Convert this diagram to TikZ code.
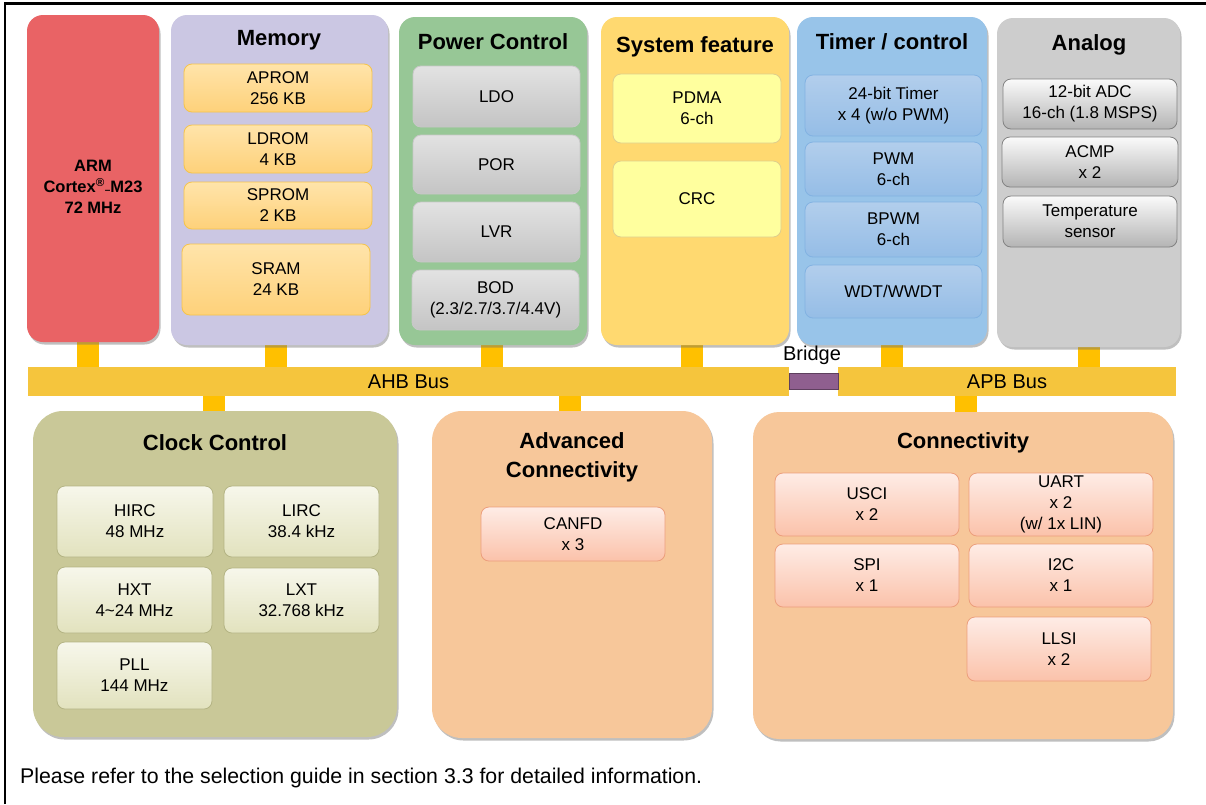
\documentclass[tikz,border=0pt]{standalone}
\usepackage{fontspec}
\setmainfont{Liberation Sans}
\usetikzlibrary{shadows,backgrounds}
\definecolor{armc}{HTML}{E96365}
\definecolor{memc}{HTML}{CBC7E3}
\definecolor{powc}{HTML}{97C796}
\definecolor{sysc}{HTML}{FFD970}
\definecolor{timc}{HTML}{98C4E9}
\definecolor{anac}{HTML}{CDCDCD}
\definecolor{clkc}{HTML}{C9C898}
\definecolor{conc}{HTML}{F7C79A}
\definecolor{busc}{HTML}{F5C53D}
\definecolor{stubc}{HTML}{FFC000}
\definecolor{brc}{HTML}{8F5F8F}
\definecolor{brd}{HTML}{5E3F5E}
\newcommand{\innerfont}{\fontsize{17}{21}\selectfont}
\begin{document}
\begin{tikzpicture}[x=1pt,y=-1pt,
  outer/.style={rounded corners=#1, inner sep=0pt, draw=none,
    drop shadow={shadow xshift=1.5pt,shadow yshift=-2.5pt,opacity=0.45,fill=black!55}},
  outer/.default=16pt,
  ttl/.style={font=\fontsize{22}{29}\selectfont\bfseries, align=center, inner sep=0pt},
  inbox/.style={rounded corners=8pt, line width=0.8pt, align=center, inner sep=0pt,
    font=\innerfont, text=black},
  mbox/.style={inbox, draw={rgb,255:red,246;green,196;blue,74}, top color={rgb,255:red,255;green,228;blue,170}, bottom color={rgb,255:red,254;green,209;blue,122}},
  pbox/.style={inbox, draw={rgb,255:red,200;green,200;blue,200}, top color={rgb,255:red,226;green,226;blue,226}, bottom color={rgb,255:red,196;green,196;blue,196}},
  sbox/.style={inbox, draw={rgb,255:red,222;green,206;blue,140}, fill={rgb,255:red,255;green,255;blue,158}},
  tbox/.style={inbox, draw={rgb,255:red,130;green,178;blue,226}, top color={rgb,255:red,178;green,206;blue,236}, bottom color={rgb,255:red,149;green,189;blue,230}},
  abox/.style={inbox, draw={rgb,255:red,130;green,130;blue,130}, top color={rgb,255:red,250;green,250;blue,250}, bottom color={rgb,255:red,180;green,180;blue,180}},
  cbox/.style={inbox, draw={rgb,255:red,180;green,180;blue,132}, top color={rgb,255:red,247;green,247;blue,235}, bottom color={rgb,255:red,226;green,226;blue,190}},
  kbox/.style={inbox, draw={rgb,255:red,236;green,158;blue,124}, top color={rgb,255:red,254;green,236;blue,230}, bottom color={rgb,255:red,251;green,194;blue,170}},
  bus/.style={fill=busc, draw=none, inner sep=0pt, font=\fontsize{20}{24}\selectfont},
  stub/.style={draw=stubc, line width=22pt}
]
\useasboundingbox (0,0) rectangle (1206,804);
\draw[line width=2.2pt] (5,804) -- (5,3.5) -- (1206,3.5);

% ---------- top row ----------
\node[outer, fill=armc, minimum width=132pt, minimum height=327pt] (arm) at (93,178.5) {};
\node[font=\fontsize{16.5}{21}\selectfont\bfseries, align=center, inner sep=0pt] (armtxt) at (93,187)
  {ARM\\Cortex\textsuperscript{®}{\fontsize{10}{10}\selectfont\raisebox{-1pt}{–}}M23\\72 MHz};

\node[outer, fill=memc, minimum width=217pt, minimum height=330pt] (mem) at (279.5,180) {};
\node[ttl] (memt) at (279,40) {Memory};
\node[mbox, minimum width=188pt, minimum height=48pt] (aprom) at (278,88) {APROM\\256 KB};
\node[mbox, minimum width=188pt, minimum height=48pt] (ldrom) at (278,149) {LDROM\\4 KB};
\node[mbox, minimum width=188pt, minimum height=47pt] (sprom) at (278,205.5) {SPROM\\2 KB};
\node[mbox, minimum width=188pt, minimum height=71pt] (sram) at (276,279.5) {SRAM\\24 KB};

\node[outer, fill=powc, minimum width=188pt, minimum height=328pt] (pow) at (493,181) {};
\node[ttl] (powt) at (493,42) {Power Control};
\node[pbox, minimum width=167pt, minimum height=61pt] (ldo) at (496.5,96.5) {LDO};
\node[pbox, minimum width=167pt, minimum height=59pt] (por) at (496.5,164.5) {POR};
\node[pbox, minimum width=167pt, minimum height=60pt] (lvr) at (496.5,232) {LVR};
\node[pbox, minimum width=167pt, minimum height=60pt] (bod) at (495.5,300) {BOD\\(2.3/2.7/3.7/4.4V)};

\node[outer, fill=sysc, minimum width=188pt, minimum height=328pt] (sys) at (695,181) {};
\node[ttl] (syst) at (695,47) {System feature};
\node[sbox, minimum width=168pt, minimum height=69pt] (pdma) at (697,108.5) {PDMA\\6-ch};
\node[sbox, minimum width=168pt, minimum height=76pt] (crc) at (697,199) {CRC};

\node[outer, fill=timc, minimum width=190pt, minimum height=328pt] (tim) at (892,181) {};
\node[ttl] (timt) at (892,42) {Timer / control};
\node[tbox, minimum width=177pt, minimum height=61pt] (t24) at (893.5,105.5) {24-bit Timer\\x 4 (w/o PWM)};
\node[tbox, minimum width=177pt, minimum height=54pt] (pwm) at (893.5,169) {PWM\\6-ch};
\node[tbox, minimum width=177pt, minimum height=55pt] (bpwm) at (893.5,229.5) {BPWM\\6-ch};
\node[tbox, minimum width=177pt, minimum height=53pt] (wdt) at (893.5,291.5) {WDT/WWDT};

\node[outer, fill=anac, minimum width=183pt, minimum height=329pt] (ana) at (1088.5,182.5) {};
\node[ttl] (anat) at (1089,45) {Analog};
\node[abox, minimum width=174pt, minimum height=50pt] (adc) at (1090,104) {12-bit ADC\\16-ch (1.8 MSPS)};
\node[abox, minimum width=176pt, minimum height=50pt] (acmp) at (1090,162) {ACMP\\x 2};
\node[abox, minimum width=174pt, minimum height=51pt] (temp) at (1090,221.5) {Temperature\\sensor};

% ---------- buses ----------
\node[bus, minimum width=761pt, minimum height=29pt] (ahb) at (408.5,381.5) {AHB Bus};
\node[bus, minimum width=338pt, minimum height=29pt] (apb) at (1007,381.5) {APB Bus};
\node[fill=brc, draw=brd, line width=0.8pt, minimum width=49pt, minimum height=16pt, inner sep=0pt] (bridge) at (813.5,381) {};
\node[font=\fontsize{20}{24}\selectfont, inner sep=0pt] (brt) at (812,355) {Bridge};

% ---------- bottom row ----------
\node[outer=30pt, fill=clkc, minimum width=364pt, minimum height=326pt] (clk) at (215,574) {};
\node[ttl] (clkt) at (215,443) {Clock Control};
\node[cbox, minimum width=156pt, minimum height=71pt] (hirc) at (135,521.5) {HIRC\\48 MHz};
\node[cbox, minimum width=155pt, minimum height=71pt] (lirc) at (301.5,521.5) {LIRC\\38.4 kHz};
\node[cbox, minimum width=155pt, minimum height=66pt] (hxt) at (134.5,600) {HXT\\4\textasciitilde 24 MHz};
\node[cbox, minimum width=155pt, minimum height=65pt] (lxt) at (301.5,600.5) {LXT\\32.768 kHz};
\node[cbox, minimum width=155pt, minimum height=67pt] (pll) at (134.5,675.5) {PLL\\144 MHz};

\node[outer=30pt, fill=conc, minimum width=280pt, minimum height=327pt] (adv) at (572,574.5) {};
\node[ttl] (advt) at (572,457.5) {Advanced\\Connectivity};
\node[kbox, minimum width=184pt, minimum height=54pt] (canfd) at (573,534) {CANFD\\x 3};

\node[outer=26pt, fill=conc, minimum width=420pt, minimum height=327pt] (con) at (963,575.5) {};
\node[ttl] (cont) at (963,443) {Connectivity};
\node[kbox, minimum width=184pt, minimum height=63pt] (usci) at (867,504.5) {USCI\\x 2};
\node[kbox, minimum width=184pt, minimum height=63pt] (uart) at (1061,504.5) {UART\\x 2\\(w/ 1x LIN)};
\node[kbox, minimum width=184pt, minimum height=63pt] (spi) at (867,575.5) {SPI\\x 1};
\node[kbox, minimum width=184pt, minimum height=63pt] (i2c) at (1061,575.5) {I2C\\x 1};
\node[kbox, minimum width=184pt, minimum height=64pt] (llsi) at (1059,649) {LLSI\\x 2};

\node[anchor=west, inner sep=0pt, font=\fontsize{21.3}{25}\selectfont] (note) at (20,778)
  {Please refer to the selection guide in section 3.3 for detailed information.};

% ---------- stubs ----------
\begin{scope}[on background layer]
\fill[white] (0,0) rectangle (1206,804);
\draw[stub] ([xshift=-5.5pt]arm.south) -- ([xshift=-5.5pt]arm.south |- ahb.north);
\draw[stub] ([xshift=-4pt]mem.south) -- ([xshift=-4pt]mem.south |- ahb.north);
\draw[stub] ([xshift=-1pt]pow.south) -- ([xshift=-1pt]pow.south |- ahb.north);
\draw[stub] ([xshift=-3pt]sys.south) -- ([xshift=-3pt]sys.south |- ahb.north);
\draw[stub] (tim.south) -- (tim.south |- apb.north);
\draw[stub] (ana.south) -- (ana.south |- apb.north);
\draw[stub] ([xshift=-1pt]clk.north) -- ([xshift=-1pt]clk.north |- ahb.south);
\draw[stub] ([xshift=-2pt]adv.north) -- ([xshift=-2pt]adv.north |- ahb.south);
\draw[stub] ([xshift=2.5pt]con.north) -- ([xshift=2.5pt]con.north |- apb.south);
\end{scope}
\end{tikzpicture}
\end{document}
